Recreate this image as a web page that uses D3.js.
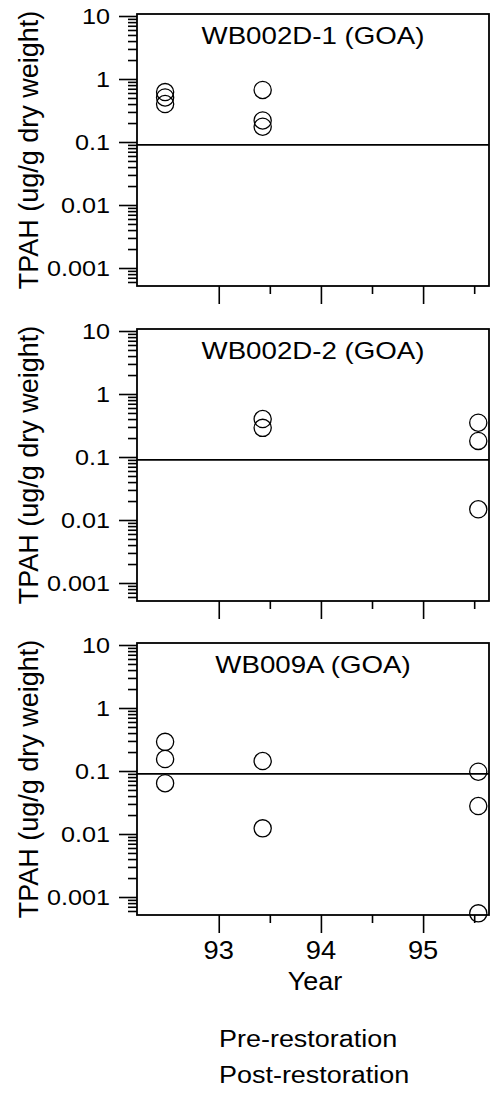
<!DOCTYPE html>
<html>
<head>
<meta charset="utf-8">
<script src="https://cdn.jsdelivr.net/npm/d3@7"></script>
<style>
  html, body { margin: 0; padding: 0; background: #fff; }
  svg { display: block; }
  text { font-family: "Liberation Sans", Arial, Helvetica, sans-serif; fill: #000; }
</style>
</head>
<body>
<script>
// ---------------- data ----------------
const siteTitles = ["WB002D-1 (GOA)", "WB002D-2 (GOA)", "WB009A (GOA)"];
const sampleYears = [92.475, 93.43, 95.54];
// TPAH (ug/g dry weight) per sampling year, one array per site
const wb002d1 = [[0.62, 0.51, 0.40], [0.67, 0.22, 0.175], []];
const wb002d2 = [[], [0.40, 0.29], [0.35, 0.18, 0.0148]];
const wb009a  = [[0.29, 0.155, 0.064], [0.144, 0.0123], [0.0975, 0.0278, 0.00055]];
const siteValues = [wb002d1, wb002d2, wb009a];
const referenceLevel = 0.09;
const yTickValues = [10, 1, 0.1, 0.01, 0.001];
const yTickLabels = ["10", "1", "0.1", "0.01", "0.001"];
const xTickValues = [93, 94, 95];
const xTickLabels = ["93", "94", "95"];
const xMinorTicks = [93.5, 94.5, 95.5];
const xDomain = [92.2, 95.645];
const yDomain = [0.000518, 10.76];
const yAxisTitle = "TPAH (ug/g dry weight)";
const xAxisTitle = "Year";
const legendLabels = ["Pre-restoration", "Post-restoration"];

// ---------------- layout ----------------
const W = 499, H = 1099;
const left = 137, right = 489, panelH = 272;
const panelTops = [14, 329, 643];

const svg = d3.select("body").append("svg").attr("width", W).attr("height", H);

const x = d3.scaleLinear().domain(xDomain).range([left, right]);

// minor log ticks 2..9 x 10^k
const minorY = [];
for (let k = -4; k <= 1; k++) {
  for (let m = 2; m <= 9; m++) {
    const v = m * Math.pow(10, k);
    if (v >= yDomain[0] && v <= yDomain[1]) minorY.push(v);
  }
}

function stretchedText(g, tx, ty, str, size, sx, anchor) {
  return g.append("text")
    .attr("transform", `translate(${tx},${ty}) scale(${sx},1)`)
    .attr("text-anchor", anchor)
    .style("font-size", size + "px")
    .text(str);
}

siteTitles.forEach((title, i) => {
  const top = panelTops[i], bottom = top + panelH;
  const y = d3.scaleLog().domain(yDomain).range([bottom, top]);
  const g = svg.append("g");

  // frame
  g.append("rect").attr("x", left).attr("y", top)
    .attr("width", right - left).attr("height", panelH)
    .attr("fill", "none").attr("stroke", "#000").attr("stroke-width", 1.8);

  // y axis: major + minor ticks
  const yMajor = d3.axisLeft(y).tickValues(yTickValues).tickSize(18).tickFormat("");
  const yMinor = d3.axisLeft(y).tickValues(minorY).tickSize(9).tickFormat("");
  [yMajor, yMinor].forEach(ax => {
    const a = g.append("g").attr("transform", `translate(${left},0)`).call(ax);
    a.select(".domain").remove();
    a.selectAll("line").attr("stroke", "#000").attr("stroke-width", 1.6);
  });
  yTickValues.forEach((v, j) => {
    stretchedText(g, 110, y(v), yTickLabels[j], 22.5, 1.12, "end")
      .attr("dy", "0.36em");
  });

  // x axis ticks
  const xMajor = d3.axisBottom(x).tickValues(xTickValues).tickSize(18).tickFormat("");
  const xMinor = d3.axisBottom(x).tickValues(xMinorTicks).tickSize(8).tickFormat("");
  [xMajor, xMinor].forEach(ax => {
    const a = g.append("g").attr("transform", `translate(0,${bottom})`).call(ax);
    a.select(".domain").remove();
    a.selectAll("line").attr("stroke", "#000").attr("stroke-width", 1.6);
  });

  // reference line
  g.append("line").attr("x1", left).attr("x2", right)
    .attr("y1", y(referenceLevel)).attr("y2", y(referenceLevel))
    .attr("stroke", "#000").attr("stroke-width", 1.6);

  // title
  stretchedText(g, (left + right) / 2, top + 30, title, 24.5, 1.13, "middle");

  // y axis title
  g.append("text")
    .attr("transform", `translate(38,${(top + bottom) / 2}) rotate(-90)`)
    .attr("text-anchor", "middle")
    .style("font-size", "27px")
    .text(yAxisTitle);

  // points
  const pts = [];
  siteValues[i].forEach((vals, k) => vals.forEach(v => pts.push({ yr: sampleYears[k], v })));
  g.selectAll("circle.pt").data(pts).join("circle")
    .attr("class", "pt")
    .attr("cx", d => x(d.yr)).attr("cy", d => y(d.v))
    .attr("r", 8.6)
    .attr("fill", "none").attr("stroke", "#000").attr("stroke-width", 1.3);

  // x tick labels on the bottom panel only
  if (i === siteTitles.length - 1) {
    xTickValues.forEach((v, j) => {
      stretchedText(g, x(v), 959, xTickLabels[j], 26, 1.05, "middle");
    });
    stretchedText(g, 315, 990, xAxisTitle, 25, 1.08, "middle");
  }
});

// legend text (no symbols in the reference)
stretchedText(svg, 219, 1047, legendLabels[0], 24.5, 1.1, "start");
stretchedText(svg, 219, 1083, legendLabels[1], 24.5, 1.1, "start");
</script>
</body>
</html>
